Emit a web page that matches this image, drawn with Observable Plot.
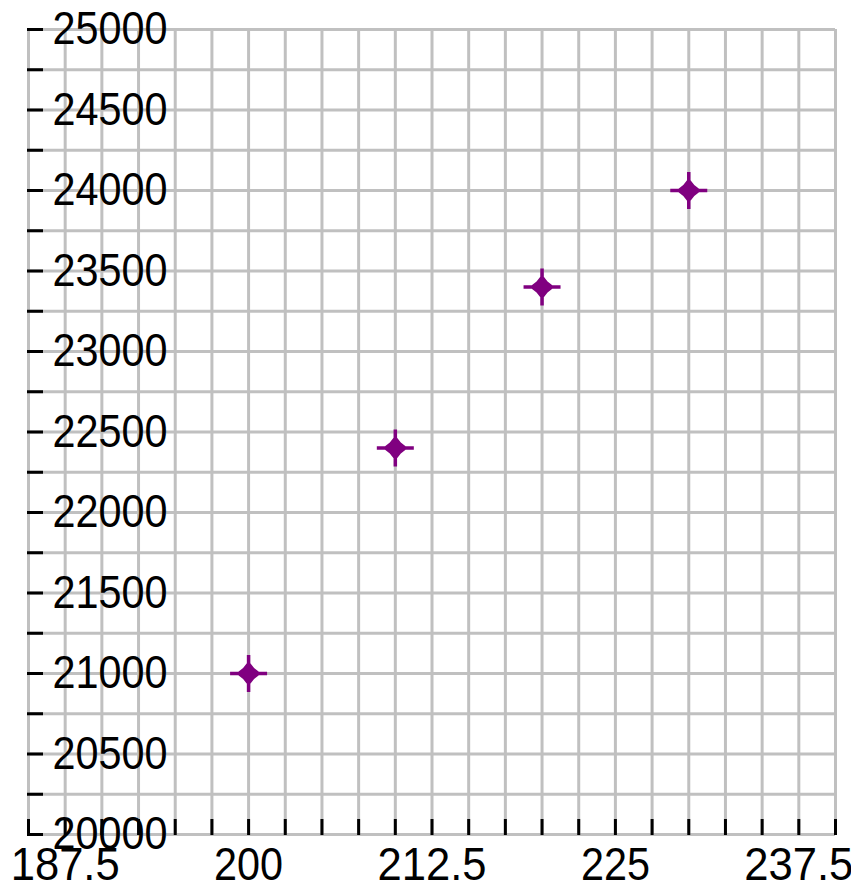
<!DOCTYPE html>
<html>
<head>
<meta charset="utf-8">
<script src="https://cdn.jsdelivr.net/npm/d3@7"></script>
<script src="https://cdn.jsdelivr.net/npm/@observablehq/plot@0.6"></script>
<style>
  html, body { margin: 0; padding: 0; background: #ffffff; }
  #chart svg { display: block; }
</style>
</head>
<body>
<div id="chart"></div>
<script>
// ---- data ----
const xValues = [200, 210, 220, 230];
const yValues = [21000, 22400, 23400, 24000];

const xTickLabels = [187.5, 200, 212.5, 225, 237.5];
const yTickLabels = [20000, 20500, 21000, 21500, 22000, 22500, 23000, 23500, 24000, 24500, 25000];

const xGridTicks = [185, 187.5, 190, 192.5, 195, 197.5, 200, 202.5, 205, 207.5, 210, 212.5,
                    215, 217.5, 220, 222.5, 225, 227.5, 230, 232.5, 235, 237.5, 240];
const yGridTicks = [20000, 20250, 20500, 20750, 21000, 21250, 21500, 21750, 22000, 22250, 22500,
                    22750, 23000, 23250, 23500, 23750, 24000, 24250, 24500, 24750, 25000];

const xDomain = [185, 240];
const yDomain = [20000, 25000];

// ---- layout ----
const W = 851, H = 886;
const mL = 28, mR = 16, mT = 29, mB = 52;
const plotW = W - mL - mR, plotH = H - mT - mB;
const tickLen = 15;

const points = xValues.map((x, i) => ({x, y: yValues[i]}));

// four-pointed star marker: thin cross plus a central diamond
const star = {
  draw(ctx) {
    const R = 18.5, w = 1.75, a = 12.5, b = 5.5;
    ctx.moveTo(-R, -w); ctx.lineTo(R, -w); ctx.lineTo(R, w); ctx.lineTo(-R, w); ctx.closePath();
    ctx.moveTo(-w, -R); ctx.lineTo(w, -R); ctx.lineTo(w, R); ctx.lineTo(-w, R); ctx.closePath();
    ctx.moveTo(0, -a); ctx.lineTo(b, -b); ctx.lineTo(a, 0); ctx.lineTo(b, b);
    ctx.lineTo(0, a); ctx.lineTo(-b, b); ctx.lineTo(-a, 0); ctx.lineTo(-b, -b); ctx.closePath();
  }
};

const fontSize = 46;

const chart = Plot.plot({
  width: W,
  height: H,
  marginLeft: mL,
  marginRight: mR,
  marginTop: mT,
  marginBottom: mB,
  style: {background: "#ffffff", fontFamily: "'Liberation Sans', Arial, sans-serif", color: "#000"},
  x: {domain: xDomain, axis: null},
  y: {domain: yDomain, axis: null},
  marks: [
    Plot.ruleX(xGridTicks, {x: d => d, stroke: "#c0c0c0", strokeWidth: 3}),
    Plot.ruleY(yGridTicks, {y: d => d, stroke: "#c0c0c0", strokeWidth: 3}),
    Plot.tickY(yGridTicks, {y: d => d, stroke: "#000", strokeWidth: 3, insetLeft: -1, insetRight: plotW - tickLen}),
    Plot.tickX(xGridTicks, {x: d => d, stroke: "#000", strokeWidth: 3, insetTop: plotH - tickLen, insetBottom: -1}),
    Plot.text(yTickLabels, {
      y: d => d, frameAnchor: "left", dx: 24, textAnchor: "start", lineAnchor: "middle",
      text: d => String(d), fontSize, fill: "#000"
    }),
    Plot.text(xTickLabels, {
      x: d => d, frameAnchor: "bottom", dy: 13, textAnchor: "middle", lineAnchor: "top",
      text: d => String(d), fontSize, fill: "#000"
    }),
    Plot.dot(points, {x: "x", y: "y", symbol: star, r: 10, fill: "#800080", stroke: "none"})
  ]
});

// narrow the label glyphs to match the condensed look of the reference font
d3.select(chart).selectAll("text").each(function () {
  const s = this.textContent || "";
  const digits = (s.match(/[0-9]/g) || []).length;
  const dots = (s.match(/\./g) || []).length;
  if (digits + dots > 0) {
    this.setAttribute("textLength", digits * 23 + dots * 17);
    this.setAttribute("lengthAdjust", "spacingAndGlyphs");
  }
});

document.getElementById("chart").appendChild(chart);
</script>
</body>
</html>
